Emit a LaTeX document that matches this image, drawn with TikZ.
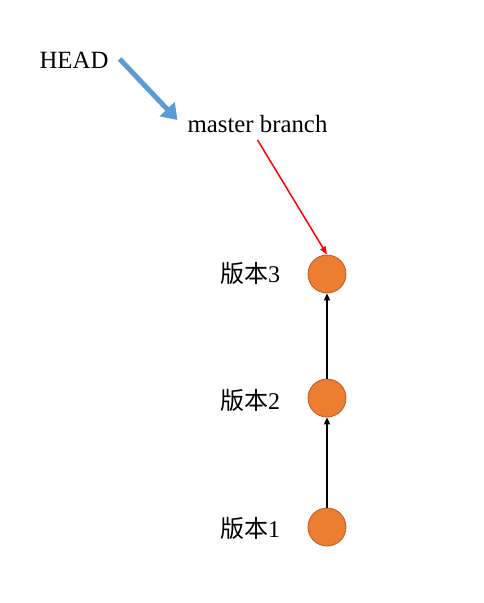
\documentclass[tikz,border=0pt]{standalone}
\usepackage{fontspec}
\setmainfont{Liberation Serif}
\newfontfamily\cjk{Noto Sans CJK SC}
\usetikzlibrary{arrows.meta}
\definecolor{verfill}{HTML}{ED7D31}
\definecolor{verline}{HTML}{B85A22}
\definecolor{headblue}{HTML}{5B9BD5}
\tikzset{
  txt/.style={font=\fontsize{24.8}{28}\selectfont, inner sep=2pt},
  ver/.style={circle, fill=verfill, draw=verline, line width=0.8pt, minimum size=38pt, inner sep=0pt},
  verlabel/.style={font=\fontsize{24}{28}\selectfont, inner sep=0pt},
  parent/.style={-{Triangle[length=7pt,width=6pt]}, line width=1.8pt, black},
}
\begin{document}
\begin{tikzpicture}[x=1pt,y=-1pt]
\useasboundingbox (0,0) rectangle (484,603);
\node[txt] (head) at (74,60) {HEAD};
\node[txt] (master) at (257.5,124) {master branch};
\node[ver] (c3) at (327,274) {};
\node[ver] (c2) at (327,398) {};
\node[ver] (c1) at (327,527) {};
\node[verlabel] (l3) at (250,273) {{\cjk 版本}3};
\node[verlabel] (l2) at (250,400) {{\cjk 版本}2};
\node[verlabel] (l1) at (250,528) {{\cjk 版本}1};
\draw[headblue, line width=5pt, -{Triangle[length=15pt,width=20pt]}]
  ([xshift=9pt,yshift=1pt]head.east) -- ([xshift=-8pt,yshift=4pt]master.west);
\draw[red, line width=1.5pt, -{Triangle[length=8pt,width=6pt]}]
  ([xshift=0pt,yshift=-5pt]master.south) -- (c3.north);
\draw[parent] (c1) -- (c2);
\draw[parent] (c2) -- (c3);
\end{tikzpicture}
\end{document}
